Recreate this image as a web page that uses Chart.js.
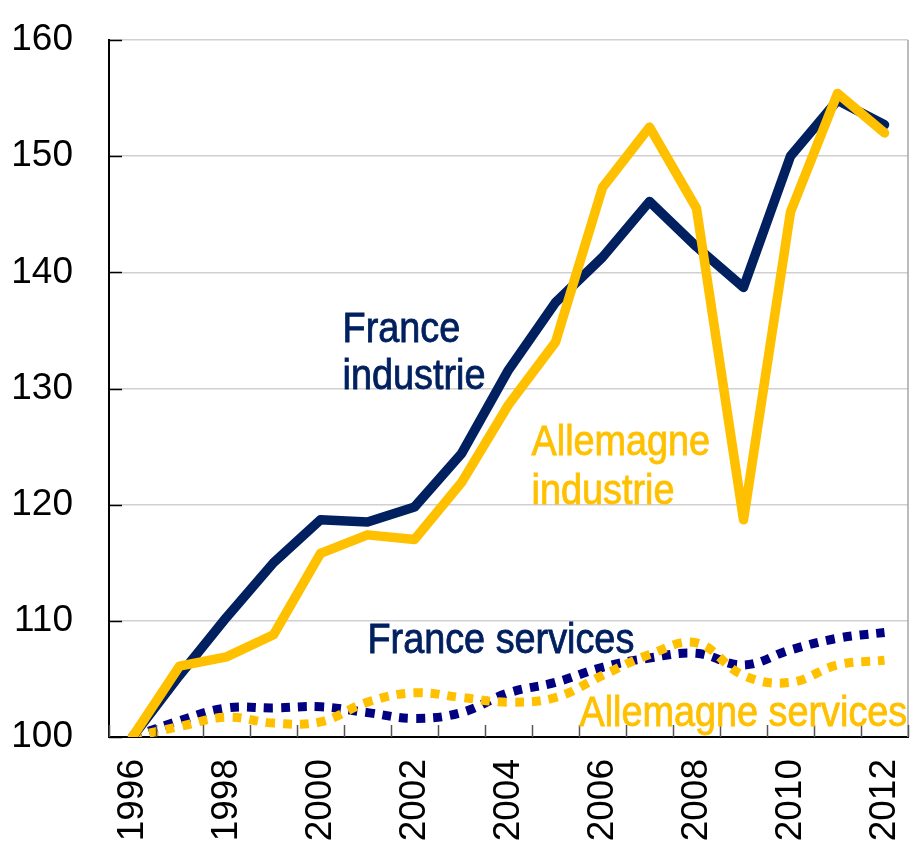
<!DOCTYPE html>
<html>
<head>
<meta charset="utf-8">
<script src="https://cdn.jsdelivr.net/npm/chart.js@4.4.1/dist/chart.umd.min.js"></script>
<style>
    html, body { margin: 0; padding: 0; background: #fff; }
    #wrap { width: 911px; height: 844px; }
</style>
</head>
<body>
<div id="wrap"><canvas id="chart" width="911" height="844"></canvas></div>
<script>
// Données
const YEARS = ['1996', '1997', '1998', '1999', '2000', '2001', '2002', '2003', '2004',
               '2005', '2006', '2007', '2008', '2009', '2010', '2011', '2012'];
const Y_TICKS = [100, 110, 120, 130, 140, 150, 160];

const franceIndustrie = [100, 105.3, 110.3, 115.0, 118.7, 118.5, 119.8, 124.4, 131.6,
                         137.4, 141.3, 146.1, 142.2, 138.7, 150.0, 154.8, 152.7];
const allemagneIndustrie = [100, 106.1, 106.9, 108.8, 115.8, 117.4, 117.0, 121.9, 128.6,
                            134.0, 147.3, 152.5, 145.5, 118.7, 145.2, 155.4, 152.0];
const franceServices = [100, 101.4, 102.5, 102.5, 102.6, 102.1, 101.6, 102.1, 103.8,
                        104.7, 106.0, 106.8, 107.2, 106.2, 107.5, 108.5, 109.0];
const allemagneServices = [100, 100.9, 101.7, 101.2, 101.3, 103.0, 103.8, 103.4, 103.0,
                           103.4, 105.3, 107.1, 108.1, 105.3, 104.7, 106.2, 106.6];

// Étiquettes des séries (position en unités de données)
const LABELS = [
    { lines: ['France', 'industrie'], x: 4.47, y: [134.0, 130.0], color: '#002060' },
    { lines: ['Allemagne', 'industrie'], x: 8.49, y: [124.3, 120.1], color: '#FFC000' },
    { lines: ['France services'], x: 5.0, y: [107.2], color: '#002060' },
    { lines: ['Allemagne services'], x: 9.51, y: [100.95], color: '#FFC000' }
];

const NAVY = '#002060';
const NAVY_DOT = '#000080';
const YELLOW = '#FFC000';
const FONT = '"Liberation Sans", Arial, sans-serif';

function noPadding(scale) {
    scale.paddingLeft = 0;
    scale.paddingRight = 0;
    scale.paddingTop = 0;
    scale.paddingBottom = 0;
}

// Décor : bordure droite, petites graduations intérieures, textes
const decorPlugin = {
    id: 'decor',
    afterDraw(chart) {
        const ctx = chart.ctx;
        const area = chart.chartArea;
        const xs = chart.scales.x;
        const ys = chart.scales.y;
        ctx.save();

        // bordure droite
        ctx.strokeStyle = '#a6a6a6';
        ctx.lineWidth = 1.5;
        ctx.beginPath();
        ctx.moveTo(area.right, area.top);
        ctx.lineTo(area.right, area.bottom);
        ctx.stroke();

        // graduations y (vers l'intérieur)
        ctx.strokeStyle = '#000';
        ctx.lineWidth = 1.5;
        Y_TICKS.forEach(v => {
            const py = Math.round(ys.getPixelForValue(v)) + 0.5;
            ctx.beginPath();
            ctx.moveTo(area.left, py);
            ctx.lineTo(area.left + 13, py);
            ctx.stroke();
        });

        // graduations x entre les catégories
        const step = xs.getPixelForValue(1) - xs.getPixelForValue(0);
        ctx.strokeStyle = '#555';
        for (let i = 0; i <= YEARS.length; i++) {
            const px = Math.round(xs.getPixelForValue(i) - step / 2) + 0.5;
            ctx.beginPath();
            ctx.moveTo(px, area.bottom);
            ctx.lineTo(px, area.bottom - 12);
            ctx.stroke();
        }

        // étiquettes des séries (police resserrée)
        ctx.font = '42px ' + FONT;
        ctx.textAlign = 'left';
        ctx.textBaseline = 'alphabetic';
        LABELS.forEach(lbl => {
            ctx.fillStyle = lbl.color;
            ctx.strokeStyle = lbl.color;
            ctx.lineWidth = 0.8;
            lbl.lines.forEach((txt, i) => {
                const px = xs.getPixelForValue(lbl.x);
                const py = ys.getPixelForValue(lbl.y[i]);
                ctx.save();
                ctx.translate(px, py);
                ctx.scale(0.9, 1);
                ctx.fillText(txt, 0, 0);
                ctx.strokeText(txt, 0, 0);
                ctx.restore();
            });
        });

        ctx.restore();
    }
};

const ctx = document.getElementById('chart').getContext('2d');
new Chart(ctx, {
    type: 'line',
    data: {
        labels: YEARS,
        datasets: [
            {
                label: 'Allemagne industrie',
                data: allemagneIndustrie,
                borderColor: YELLOW,
                borderWidth: 9.5,
                borderJoinStyle: 'round',
                borderCapStyle: 'round',
                pointRadius: 0,
                tension: 0
            },
            {
                label: 'France industrie',
                data: franceIndustrie,
                borderColor: NAVY,
                borderWidth: 9.5,
                borderJoinStyle: 'round',
                borderCapStyle: 'round',
                pointRadius: 0,
                tension: 0
            },
            {
                label: 'Allemagne services',
                data: allemagneServices,
                borderColor: YELLOW,
                borderWidth: 9,
                borderDash: [9, 8],
                pointRadius: 0,
                tension: 0.4
            },
            {
                label: 'France services',
                data: franceServices,
                borderColor: NAVY_DOT,
                borderWidth: 9,
                borderDash: [9, 8],
                pointRadius: 0,
                tension: 0.4
            }
        ]
    },
    options: {
        responsive: false,
        animation: false,
        layout: {
            padding: { top: 40, right: 3, left: 0, bottom: 0 }
        },
        plugins: {
            legend: { display: false },
            tooltip: { enabled: false }
        },
        scales: {
            x: {
                offset: true,
                grid: { display: false },
                border: { color: '#000', width: 2 },
                afterFit: scale => { scale.height = 107; noPadding(scale); },
                ticks: {
                    autoSkip: false,
                    minRotation: 90,
                    maxRotation: 90,
                    padding: 14,
                    color: '#000',
                    font: { family: FONT, size: 37 },
                    callback: function(value, index) {
                        return index % 2 === 0 ? YEARS[index] : '';
                    }
                }
            },
            y: {
                min: 100,
                max: 160,
                afterFit: scale => { scale.width = 109; noPadding(scale); },
                afterBuildTicks: scale => {
                    scale.ticks = Y_TICKS.map(v => ({ value: v }));
                },
                grid: {
                    color: '#d0d0d0',
                    lineWidth: 1.5,
                    drawTicks: false
                },
                border: { color: '#000', width: 2 },
                ticks: {
                    padding: 36,
                    color: '#000',
                    font: { family: FONT, size: 37 }
                }
            }
        }
    },
    plugins: [decorPlugin]
});
</script>
</body>
</html>
